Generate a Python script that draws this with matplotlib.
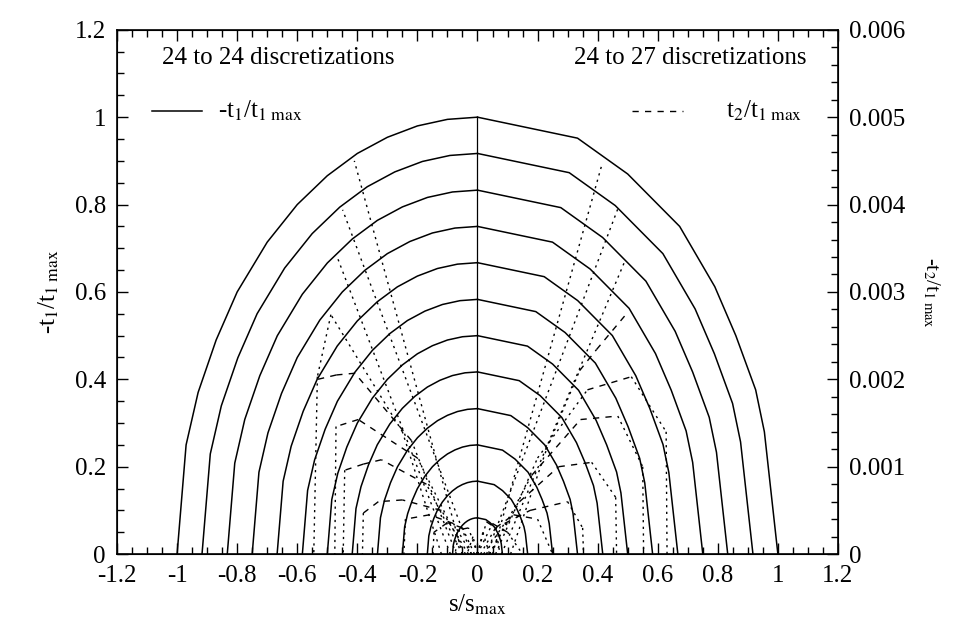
import numpy as np
import matplotlib
matplotlib.use("Agg")
import matplotlib.pyplot as plt

plt.rcParams["font.family"] = ["Liberation Serif", "DejaVu Serif"]
plt.rcParams["mathtext.fontset"] = "stix"

# load steps: contact half-width and peak normal traction
HALF_WIDTH = [1.0, 0.917, 0.833, 0.75, 0.667, 0.583, 0.5, 0.417, 0.333, 0.25, 0.167, 0.083]
PEAK = [1.0, 0.917, 0.833, 0.75, 0.667, 0.583, 0.5, 0.417, 0.333, 0.25, 0.167, 0.083]

# normalised -t1 profile, conforming mesh (left half)
XI_L = [0.0, 0.1, 0.2, 0.3, 0.4, 0.5, 0.6, 0.7, 0.8, 0.87, 0.93, 0.97, 1.0]
ETA_L = [1.0, 0.995, 0.98, 0.954, 0.917, 0.866, 0.80, 0.714, 0.60, 0.49, 0.37, 0.25, 0.0]
# normalised -t1 profile, non-conforming mesh (right half)
XI_R = [0.0, 0.333, 0.5, 0.673, 0.79, 0.86, 0.926, 0.955, 1.0]
ETA_R = [1.0, 0.952, 0.87, 0.75, 0.612, 0.50, 0.376, 0.28, 0.0]

# t2/t1max curves, 24 to 24 discretizations (left half)
T2_L_S = [
    [-0.05, -0.41],
    [-0.02, -0.449],
    [-0.09, -0.466],
    [-0.12, -0.25, -0.488, -0.533, -0.545],
    [-0.07, -0.22, -0.408, -0.47, -0.532],
    [-0.04, -0.20, -0.397, -0.471, -0.475],
    [-0.05, -0.17, -0.32, -0.38, -0.442, -0.447],
    [-0.03, -0.12, -0.25, -0.33, -0.38, -0.383],
    [-0.02, -0.08, -0.16, -0.24, -0.245],
    [-0.01, -0.05, -0.10, -0.145, -0.148],
    [0.0, -0.03, -0.06, -0.075],
    [0.0, -0.015, -0.035],
]
T2_L_V = [
    [0.0, 0.00450],
    [0.0, 0.00394],
    [0.0, 0.00339],
    [0.0, 0.00140, 0.00274, 0.00203, 0.0],
    [0.0, 0.00130, 0.00207, 0.00205, 0.00200],
    [0.0, 0.00110, 0.00154, 0.00146, 0.0],
    [0.0, 0.00080, 0.00108, 0.00103, 0.00096, 0.0],
    [0.0, 0.00050, 0.00062, 0.00060, 0.00047, 0.0],
    [0.0, 0.00035, 0.00045, 0.00040, 0.0],
    [0.0, 0.00030, 0.00036, 0.00025, 0.0],
    [0.0, 0.00030, 0.00028, 0.0],
    [0.0, 0.00020, 0.0],
]
# t2/t1max curves, 24 to 27 discretizations (right half)
T2_R_S = [
    [0.05, 0.416],
    [0.03, 0.467],
    [0.08, 0.489],
    [0.11, 0.23, 0.34, 0.396, 0.496],
    [0.06, 0.20, 0.366, 0.512, 0.628, 0.631],
    [0.04, 0.18, 0.343, 0.467, 0.55, 0.553],
    [0.04, 0.14, 0.27, 0.38, 0.46, 0.463],
    [0.02, 0.09, 0.175, 0.30, 0.35, 0.353],
    [0.01, 0.06, 0.12, 0.20, 0.25],
    [0.0, 0.05, 0.10, 0.15],
    [0.0, 0.03, 0.06, 0.075],
    [0.0, 0.018, 0.04],
]
T2_R_V = [
    [0.0, 0.00448],
    [0.0, 0.00395],
    [0.0, 0.00334],
    [0.0, 0.00120, 0.00210, 0.00234, 0.00275],
    [0.0, 0.00110, 0.00188, 0.00203, 0.00140, 0.0],
    [0.0, 0.00090, 0.00154, 0.00158, 0.00100, 0.0],
    [0.0, 0.00060, 0.00100, 0.00105, 0.00065, 0.0],
    [0.0, 0.00035, 0.00050, 0.00060, 0.00030, 0.0],
    [0.0, 0.00030, 0.00045, 0.00040, 0.0],
    [0.0, 0.00035, 0.00025, 0.0],
    [0.0, 0.00037, 0.00030, 0.0],
    [0.0, 0.00025, 0.0],
]

DOTTED = (0, (1.6, 3.2))
DASHED = (0, (4.5, 4.5))


def draw_t2(axis, s_vals, v_vals):
    # steep pieces come out dotted, flat ones dashed
    for i in range(len(s_vals) - 1):
        ds = abs(s_vals[i + 1] - s_vals[i]) / 2.4
        dv = abs(v_vals[i + 1] - v_vals[i]) / 0.006 * 0.72
        ls = DOTTED if dv > 1.3 * ds else DASHED
        axis.plot(s_vals[i:i + 2], v_vals[i:i + 2], color="black", lw=1.0, ls=ls)


fig = plt.figure(figsize=(9.71, 6.34), dpi=100)
ax = fig.add_axes([0.1205, 0.126, 0.7425, 0.827])
ax2 = ax.twinx()

for a, p in zip(HALF_WIDTH, PEAK):
    ax.plot([-a * x for x in XI_L], [p * e for e in ETA_L], color="black", lw=1.1)
    ax.plot([a * x for x in XI_R], [p * e for e in ETA_R], color="black", lw=1.1)
ax.plot([0, 0], [0, 1.0], color="black", lw=0.9)

for s_vals, v_vals in zip(T2_L_S + T2_R_S, T2_L_V + T2_R_V):
    draw_t2(ax2, s_vals, v_vals)

ax.set_xlim(-1.2, 1.2)
ax.set_ylim(0, 1.2)
ax2.set_ylim(0, 0.006)
ax.set_xticks(np.arange(-1.2, 1.21, 0.2))
ax.set_xticklabels(["-1.2", "-1", "-0.8", "-0.6", "-0.4", "-0.2", "0",
                    "0.2", "0.4", "0.6", "0.8", "1", "1.2"])
ax.set_xticks(np.arange(-1.2, 1.21, 0.05), minor=True)
ax.set_yticks(np.arange(0, 1.21, 0.2))
ax.set_yticklabels(["0", "0.2", "0.4", "0.6", "0.8", "1", "1.2"])
ax.set_yticks(np.arange(0, 1.21, 0.05), minor=True)
ax2.set_yticks(np.arange(0, 0.00601, 0.001))
ax2.set_yticklabels(["0", "0.001", "0.002", "0.003", "0.004", "0.005", "0.006"])
ax2.set_yticks(np.arange(0, 0.00601, 0.0002), minor=True)

ax.tick_params(which="both", direction="in", top=True, right=False, labelsize=18, pad=8)
ax.tick_params(which="major", length=8, width=1)
ax.tick_params(which="minor", length=5, width=1)
ax2.tick_params(which="both", direction="in", labelsize=18, pad=8)
ax2.tick_params(which="major", length=8, width=1)
ax2.tick_params(which="minor", length=5, width=1)
for sp in ax.spines.values():
    sp.set_linewidth(1.2)

ax.set_xlabel(r"s/s$_{\rm max}$", fontsize=18, labelpad=4)
ax.set_ylabel(r"-t$_1$/t$_{1\ \rm max}$", fontsize=18, labelpad=10)
ax2.set_ylabel(r"-t$_2$/t$_{1\ \rm max}$", fontsize=15, rotation=270, labelpad=26)

ax.text(0.062, 0.946, "24 to 24 discretizations", transform=ax.transAxes,
        fontsize=18, va="center", ha="left")
ax.text(0.957, 0.946, "24 to 27 discretizations", transform=ax.transAxes,
        fontsize=18, va="center", ha="right")
ax.plot([0.048, 0.118], [0.846, 0.846], transform=ax.transAxes, color="black", lw=1.1)
ax.text(0.14, 0.846, r"-t$_1$/t$_{1\ \rm max}$", transform=ax.transAxes,
        fontsize=18, va="center", ha="left")
ax.plot([0.715, 0.785], [0.846, 0.846], transform=ax.transAxes, color="black",
        lw=1.0, ls=DASHED)
ax.text(0.95, 0.846, r"t$_2$/t$_{1\ \rm max}$", transform=ax.transAxes,
        fontsize=18, va="center", ha="right")

fig.savefig("out.png", dpi=100)
